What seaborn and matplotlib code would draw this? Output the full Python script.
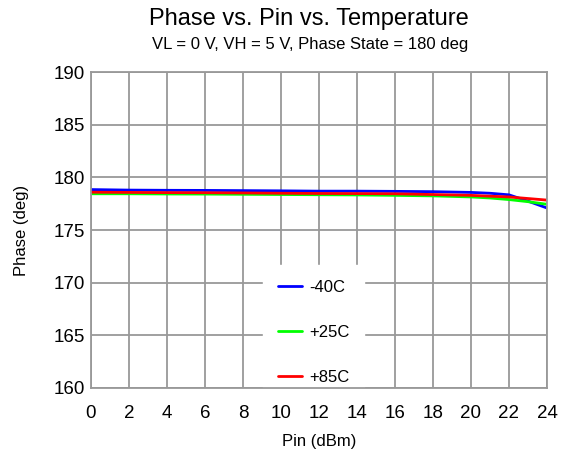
import matplotlib
matplotlib.use("Agg")
import matplotlib.pyplot as plt
import seaborn as sns
import numpy as np
import pandas as pd

# Data
pin_dbm = [0, 2, 4, 6, 8, 10, 12, 14, 16, 18, 20, 21, 22, 23, 24]
phase_m40 = [178.85, 178.80, 178.78, 178.77, 178.75, 178.73, 178.70, 178.70,
             178.68, 178.65, 178.58, 178.50, 178.35, 177.75, 177.10]
phase_p25 = [178.45, 178.45, 178.43, 178.42, 178.40, 178.38, 178.36, 178.34,
             178.30, 178.25, 178.15, 178.05, 177.90, 177.70, 177.45]
phase_p85 = [178.60, 178.58, 178.56, 178.55, 178.53, 178.50, 178.48, 178.47,
             178.45, 178.38, 178.30, 178.22, 178.15, 178.00, 177.85]
temps = ["-40C", "+25C", "+85C"]
colors = ["#0000FF", "#00FF00", "#FF0000"]

x_ticks = list(range(0, 25, 2))
y_ticks = list(range(160, 191, 5))

rows = []
for temp, vals in zip(temps, [phase_m40, phase_p25, phase_p85]):
    for p, v in zip(pin_dbm, vals):
        rows.append({"pin": p, "phase": v, "temp": temp})
df = pd.DataFrame(rows)

sns.set_style("white")
plt.rcParams["font.family"] = ["Liberation Sans", "DejaVu Sans"]
plt.rcParams["text.color"] = "black"

fig = plt.figure(figsize=(5.61, 4.59), dpi=100)
ax = fig.add_axes([0.162, 0.1547, 0.813, 0.688])

sns.lineplot(data=df, x="pin", y="phase", hue="temp", hue_order=temps,
             palette=dict(zip(temps, colors)), linewidth=2.0, ax=ax,
             estimator=None, sort=False)

ax.set_xlim(0, 24)
ax.set_ylim(160, 190)
ax.set_xticks(x_ticks)
ax.set_yticks(y_ticks)
ax.tick_params(labelsize=13.5, labelcolor="black", length=0)
ax.tick_params(axis="x", pad=12)
ax.tick_params(axis="y", pad=4)
ax.grid(True, color="#999999", linewidth=1.3)
ax.set_axisbelow(True)
for s in ax.spines.values():
    s.set_color("#999999")
    s.set_linewidth(1.3)
    s.set_visible(True)

ax.set_xlabel("Pin (dBm)", fontsize=12, color="black", labelpad=9)
ax.set_ylabel("Phase (deg)", fontsize=12, color="black", labelpad=18)

leg = ax.legend(loc="lower left", bbox_to_anchor=(0.405, 0.004), frameon=True,
                fontsize=12, handlelength=1.45, labelspacing=1.8,
                borderpad=0.12, handletextpad=0.45, borderaxespad=0)
leg.get_frame().set_facecolor("white")
leg.get_frame().set_edgecolor("white")
leg.get_frame().set_alpha(1.0)
leg.get_frame().set_boxstyle("square", pad=0.75)
leg.set_zorder(2.2)  # above grid, below the spines
for line in leg.get_lines():
    line.set_linewidth(2.0)
for t in leg.get_texts():
    t.set_color("black")

fig.text(0.551, 0.958, "Phase vs. Pin vs. Temperature", ha="center",
         va="center", fontsize=17, color="black")
fig.text(0.553, 0.903, "VL = 0 V, VH = 5 V, Phase State = 180 deg",
         ha="center", va="center", fontsize=12, color="black")

fig.savefig("out.png", dpi=100)
